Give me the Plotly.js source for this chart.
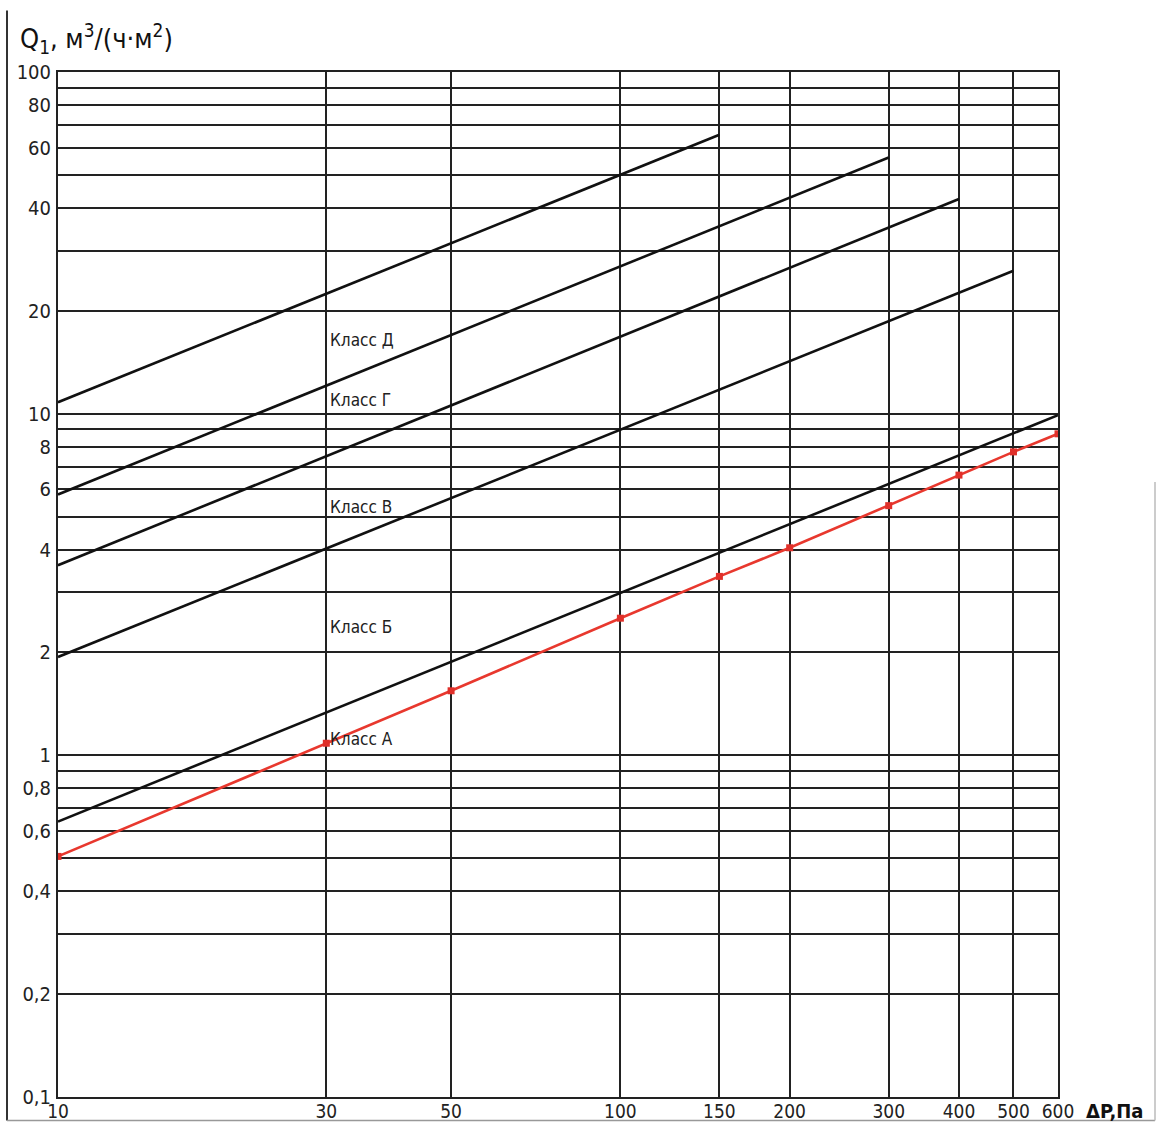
<!DOCTYPE html>
<html><head><meta charset="utf-8">
<script src="https://cdn.plot.ly/plotly-3.0.1.min.js"></script>
<style>body{margin:0;background:#fff}#c{width:1160px;height:1124px}</style>
</head><body><div id="c"></div>
<script>
const xTicks = [10, 30, 50, 100, 150, 200, 300, 400, 500, 600];
const xTickText = ["10", "30", "50", "100", "150", "200", "300", "400", "500", "600"];
const yTicks = [0.1, 0.2, 0.4, 0.6, 0.8, 1, 2, 4, 6, 8, 10, 20, 40, 60, 80, 100];
const yTickText = ["0,1", "0,2", "0,4", "0,6", "0,8", "1", "2", "4", "6", "8", "10", "20", "40", "60", "80", "100"];

const classNames = ["Класс Д", "Класс Г", "Класс В", "Класс Б", "Класс А"];
const classX = [[10,150],[10,300],[10,400],[10,500],[10,600]];
const classY = [[10.8,65.5],[5.8,56.2],[3.6,42.5],[1.94,26.2],[0.64,9.9]];
const labelX = [30, 30, 30, 30, 30];
const labelY = [16.4, 11.0, 5.34, 2.37, 1.12];

const redX = [10, 30, 50, 100, 150, 200, 300, 400, 500, 600];
const redY = [0.506, 1.085, 1.545, 2.52, 3.34, 4.05, 5.38, 6.61, 7.73, 8.73];

const F = "'DejaVu Sans Condensed', 'Liberation Sans Narrow', 'Roboto', sans-serif";

const traces = classX.map((xs,i)=>({x:xs,y:classY[i],mode:'lines',type:'scatter',
  line:{color:'#111',width:2.6},hoverinfo:'skip',showlegend:false,name:classNames[i]}));
traces.push({x:redX,y:redY,mode:'lines+markers',type:'scatter',
  line:{color:'#e8382e',width:2.6},marker:{symbol:'square',size:7,color:'#e0302a'},showlegend:false});

const annotations = classNames.map((n,i)=>({x:Math.log10(labelX[i]),y:Math.log10(labelY[i]),xref:'x',yref:'y',
  text:n,showarrow:false,xanchor:'left',yanchor:'middle',xshift:2,font:{family:F,size:17,color:'#222'}}));
annotations.push({xref:'paper',yref:'paper',x:-0.04,y:1,xanchor:'left',yanchor:'bottom',yshift:12,
  text:'Q<sub>1</sub>, м<sup>3</sup>/(ч·м<sup>2</sup>)',showarrow:false,font:{family:F,size:27,color:'#111'}});
annotations.push({xref:'paper',yref:'paper',x:1.026,y:0,xanchor:'left',yanchor:'top',yshift:0,
  text:'<b>ΔP,Па</b>',showarrow:false,font:{family:F,size:20,color:'#111'}});

const layout = {
  width:1160,height:1124,margin:{l:58,r:102,t:72,b:27},
  paper_bgcolor:'#fff',plot_bgcolor:'#fff',
  xaxis:{type:'log',range:[1,Math.log10(600)],tickvals:xTicks,ticktext:xTickText,
    showgrid:true,gridcolor:'#222',gridwidth:2,zeroline:false,showline:true,linecolor:'#222',linewidth:2,mirror:true,
    ticks:'',tickfont:{family:F,size:19,color:'#222'},ticklabelstandoff:-4},
  yaxis:{type:'log',range:[-1,2],tickvals:yTicks,ticktext:yTickText,
    showgrid:true,gridcolor:'#222',gridwidth:2,zeroline:false,showline:true,linecolor:'#222',linewidth:2,mirror:true,
    minor:{dtick:'D1',showgrid:true,gridcolor:'#222',gridwidth:2,ticks:''},
    ticks:'',tickfont:{family:F,size:20,color:'#222'},ticklabelstandoff:1},
  annotations:annotations,
  shapes:[
    {type:'line',xref:'paper',yref:'paper',x0:-0.051,x1:-0.051,y0:-0.023,y1:1.06,line:{color:'#333',width:2}},
    {type:'line',xref:'paper',yref:'paper',x0:-0.051,x1:1.097,y0:-0.023,y1:-0.023,line:{color:'#999',width:1.5}},
    {type:'line',xref:'paper',yref:'paper',x0:1.097,x1:1.097,y0:-0.023,y1:0.6,line:{color:'#bbb',width:1.5}}
  ]
};
Plotly.newPlot('c',traces,layout,{staticPlot:true});
</script></body></html>
